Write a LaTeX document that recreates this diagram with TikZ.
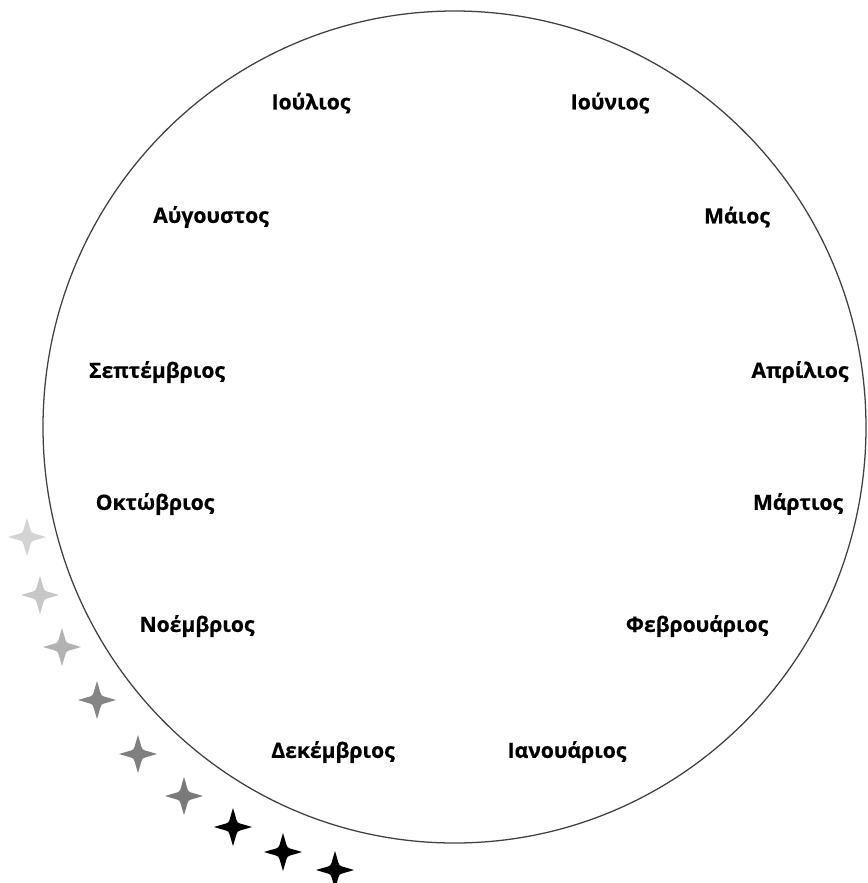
\documentclass[tikz,border=0pt]{standalone}
\usepackage{fontspec}
\usepackage{tikz}
\usetikzlibrary{positioning,calc}
\newfontfamily\monthfont{Open Sans}[BoldFeatures={FakeBold=0.6}]
\tikzset{
  month/.style={font=\monthfont\bfseries\fontsize{15}{18}\selectfont,inner sep=1pt},
  wheel/.style={draw=black!75,line width=0.9pt},
}
% four-pointed sparkle, size in px units
\newcommand{\sparkle}[2]{%
  \fill[#2,shift={(#1)}] (0,19) .. controls (1.5,14) .. (3.5,7)
    .. controls (4.5,4.5) .. (7,3.5) .. controls (14,1.5) .. (19,0)
    .. controls (14,-1.5) .. (7,-3.5) .. controls (4.5,-4.5) .. (3.5,-7)
    .. controls (1.5,-14) .. (0,-19) .. controls (-1.5,-14) .. (-3.5,-7)
    .. controls (-4.5,-4.5) .. (-7,-3.5) .. controls (-14,-1.5) .. (-19,0)
    .. controls (-14,1.5) .. (-7,3.5) .. controls (-4.5,4.5) .. (-3.5,7)
    .. controls (-1.5,14) .. cycle;}

\begin{document}
\begin{tikzpicture}[x=0.025cm,y=-0.025cm]
  \useasboundingbox (0,0) rectangle (868,883);
  \coordinate (c) at (454.5,427);
  \draw[wheel] (c) ellipse [x radius=411.5,y radius=416];
  % months, counter-clockwise from the bottom
  \node[month] (jan) at (567,752) {Ιανουάριος};
  \node[month] (feb) at (697,626) {Φεβρουάριος};
  \node[month] (mar) at (798,504) {Μάρτιος};
  \node[month] (apr) at (800,372) {Απρίλιος};
  \node[month] (may) at (737,217) {Μάιος};
  \node[month] (jun) at (610,103) {Ιούνιος};
  \node[month] (jul) at (311,103) {Ιούλιος};
  \node[month] (aug) at (211,217) {Αύγουστος};
  \node[month] (sep) at (157,372) {Σεπτέμβριος};
  \node[month] (oct) at (155,504) {Οκτώβριος};
  \node[month] (nov) at (197,626) {Νοέμβριος};
  \node[month] (dec) at (333,752) {Δεκέμβριος};
  % trail of sparkles
  \foreach \x/\y/\shade in {27/537/black!17,40/595/black!22,62/647/black!30,
      97/700/black!48,138/754/black!50,184/796/black!52,
      233/827/black,283/852/black,335/870/black}{
    \coordinate (s) at (\x,\y);
    \sparkle{s}{\shade}
  }
\end{tikzpicture}
\end{document}
